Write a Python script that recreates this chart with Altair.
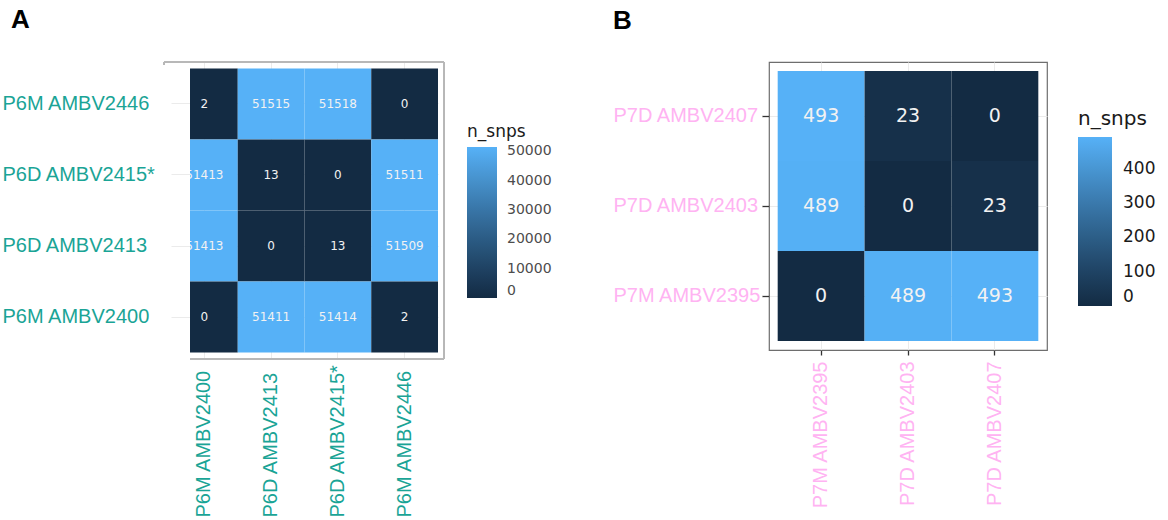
import altair as alt
import pandas as pd

# Panel A: pairwise SNP distances between the P6 isolates
a_cols = ["P6M AMBV2400", "P6D AMBV2413", "P6D AMBV2415*", "P6M AMBV2446"]
a_rows = ["P6M AMBV2446", "P6D AMBV2415*", "P6D AMBV2413", "P6M AMBV2400"]  # top to bottom
a_snps = [
    [2, 51515, 51518, 0],
    [51413, 13, 0, 51511],
    [51413, 0, 13, 51509],
    [0, 51411, 51414, 2],
]
a_legend_values = [0, 10000, 20000, 30000, 40000, 50000]

# Panel B: pairwise SNP distances between the P7 isolates
b_cols = ["P7M AMBV2395", "P7D AMBV2403", "P7D AMBV2407"]
b_rows = ["P7D AMBV2407", "P7D AMBV2403", "P7M AMBV2395"]  # top to bottom
b_snps = [
    [493, 23, 0],
    [489, 0, 23],
    [0, 489, 493],
]
b_legend_values = [0, 100, 200, 300, 400]

TEAL = "#1aa496"
PINK = "#ffb3f2"
LOW, HIGH = "#132B43", "#56B1F7"
GRID = "#ebebeb"
LABEL_FONT = "Liberation Sans"
NUM_FONT = "DejaVu Sans"


def long_table(rows, cols, values):
    recs = []
    for r, row in zip(rows, values):
        for c, v in zip(cols, row):
            recs.append({"sample1": r, "sample2": c, "n_snps": v})
    return pd.DataFrame(recs)


df_a = long_table(a_rows, a_cols, a_snps)
df_b = long_table(b_rows, b_cols, b_snps)

# ---------------- Panel A ----------------
A_W, A_H = 254, 297

xa = alt.X(
    "sample2:N", sort=a_cols, title=None,
    scale=alt.Scale(range=[-19, 248], paddingInner=0, paddingOuter=0),
    axis=alt.Axis(
        labelAngle=270, labelAlign="left", labelBaseline="middle",
        labelPadding=158, ticks=False, tickSize=0, domain=False,
        grid=True, gridColor=GRID, tickBand="center", zindex=0,
        labelColor=TEAL, labelFont=LABEL_FONT, labelFontSize=20,
    ),
)
ya = alt.Y(
    "sample1:N", sort=a_rows, title=None,
    scale=alt.Scale(paddingInner=0, paddingOuter=0.09),
    axis=alt.Axis(
        labelAlign="left", labelPadding=188, ticks=False, tickSize=0,
        domain=False, grid=True, gridColor=GRID, tickBand="center", zindex=0,
        labelColor=TEAL, labelFont=LABEL_FONT, labelFontSize=20,
    ),
)
ca = alt.Color(
    "n_snps:Q",
    scale=alt.Scale(range=[LOW, HIGH], interpolate="lab",
                    domain=[0, max(max(r) for r in a_snps)], nice=False),
    legend=alt.Legend(
        title="n_snps", orient="none", direction="vertical",
        legendX=277, legendY=62, gradientLength=151, gradientThickness=30,
        gradientStrokeWidth=0, values=a_legend_values, labelOffset=10,
        format="d",
        labelFont=NUM_FONT, labelFontSize=14, labelColor="#4d4d4d",
        titleFont=NUM_FONT, titleFontSize=17, titleFontWeight="normal",
        titleColor="#1a1a1a", titlePadding=6,
    ),
)

base_a = alt.Chart(df_a)
tiles_a = base_a.mark_rect(clip=True).encode(x=xa, y=ya, color=ca)
text_a = base_a.mark_text(clip=True, font=NUM_FONT, fontSize=12, color="#f2f2f2").encode(
    x=alt.X("sample2:N", sort=a_cols), y=alt.Y("sample1:N", sort=a_rows),
    text=alt.Text("n_snps:Q", format="d"),
)

# panel border (open on the left where the labels overlap it)
frame_col = "#b8b8b8"
frame_top = alt.Chart(df_a).mark_rule(color=frame_col, strokeWidth=1.2).encode(
    x=alt.value(-26), x2=alt.value(A_W), y=alt.value(0))
frame_tick = alt.Chart(df_a).mark_rule(color=frame_col, strokeWidth=1.2).encode(
    x=alt.value(-26), y=alt.value(0), y2=alt.value(3))
frame_right = alt.Chart(df_a).mark_rule(color=frame_col, strokeWidth=1.2).encode(
    x=alt.value(A_W), y=alt.value(0), y2=alt.value(A_H))
frame_bottom = alt.Chart(df_a).mark_rule(color=frame_col, strokeWidth=1.2).encode(
    x=alt.value(0), x2=alt.value(A_W), y=alt.value(A_H))

panel_a = alt.layer(
    tiles_a, text_a, frame_top, frame_tick, frame_right, frame_bottom
).properties(
    width=A_W, height=A_H,
    title=alt.TitleParams("A", anchor="start", frame="bounds", font=LABEL_FONT,
                          fontSize=26, fontWeight="bold", color="#000000",
                          dx=9, offset=28),
)

# ---------------- Panel B ----------------
B_W, B_H = 278, 288

xb = alt.X(
    "sample2:N", sort=b_cols, title=None,
    scale=alt.Scale(paddingInner=0, paddingOuter=0.1),
    axis=alt.Axis(
        labelAngle=270, labelPadding=6, tickSize=5, tickColor="#333333",
        tickWidth=1.3, domain=False, grid=True, gridColor=GRID,
        tickBand="center", zindex=0,
        labelColor=PINK, labelFont=LABEL_FONT, labelFontSize=20,
    ),
)
yb = alt.Y(
    "sample1:N", sort=b_rows, title=None,
    scale=alt.Scale(paddingInner=0, paddingOuter=0.1),
    axis=alt.Axis(
        labelAlign="left", labelPadding=149, tickSize=7, tickColor="#333333",
        tickWidth=1.3, domain=False, grid=True, gridColor=GRID,
        tickBand="center", zindex=0,
        labelColor=PINK, labelFont=LABEL_FONT, labelFontSize=20,
    ),
)
cb = alt.Color(
    "n_snps:Q",
    scale=alt.Scale(range=[LOW, HIGH], interpolate="lab",
                    domain=[0, max(max(r) for r in b_snps)], nice=False),
    legend=alt.Legend(
        title="n_snps", orient="none", direction="vertical",
        legendX=309, legendY=47, gradientLength=169, gradientThickness=34,
        gradientStrokeWidth=0, values=b_legend_values, labelOffset=11,
        format="d",
        labelFont=NUM_FONT, labelFontSize=17, labelColor="#1a1a1a",
        titleFont=NUM_FONT, titleFontSize=20, titleFontWeight="normal",
        titleColor="#1a1a1a", titlePadding=8,
    ),
)

base_b = alt.Chart(df_b)
tiles_b = base_b.mark_rect().encode(x=xb, y=yb, color=cb)
text_b = base_b.mark_text(font=NUM_FONT, fontSize=19, color="#f2f2f2").encode(
    x=alt.X("sample2:N", sort=b_cols), y=alt.Y("sample1:N", sort=b_rows),
    text=alt.Text("n_snps:Q", format="d"),
)

panel_b = alt.layer(tiles_b, text_b).properties(
    width=B_W, height=B_H,
    view=alt.ViewBackground(stroke="#6e6e6e", strokeWidth=1.2),
    title=alt.TitleParams("B", anchor="start", frame="bounds", font=LABEL_FONT,
                          fontSize=26, fontWeight="bold", color="#000000",
                          dx=0, offset=28),
)

chart = alt.hconcat(panel_a, panel_b, spacing=59).resolve_scale(
    color="independent"
).resolve_legend(color="independent").properties(
    padding={"left": 1, "top": 6, "right": 0, "bottom": 0}
).configure_view(stroke="transparent")

chart.save("out.html", embed_options={"renderer": "svg", "actions": False})
